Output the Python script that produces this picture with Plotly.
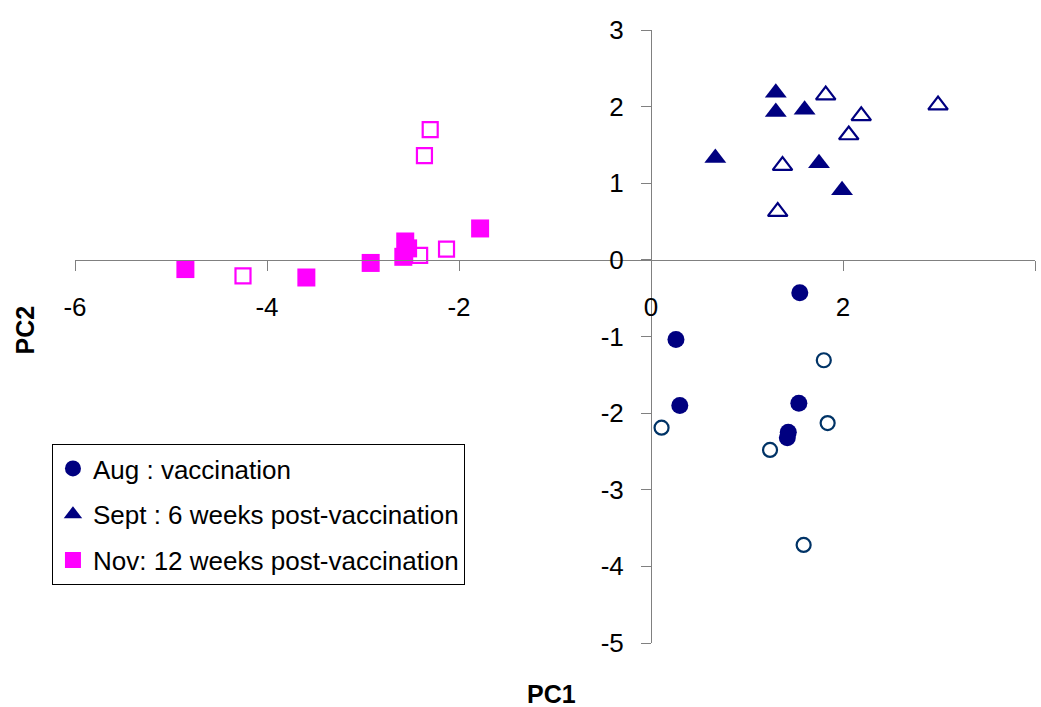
import plotly.graph_objects as go

# Aug : vaccination
aug_fill_x = [1.55, 0.26, 0.30, 1.54, 1.43, 1.42]
aug_fill_y = [-0.43, -1.04, -1.90, -1.87, -2.25, -2.32]
aug_open_x = [1.80, 1.84, 0.11, 1.24, 1.59]
aug_open_y = [-1.31, -2.13, -2.19, -2.48, -3.72]

# Sept : 6 weeks post-vaccination
sep_fill_x = [1.30, 1.30, 1.60, 0.67, 1.75, 1.99]
sep_fill_y = [2.18, 1.93, 1.96, 1.33, 1.26, 0.91]
sep_open_x = [1.82, 2.19, 2.06, 2.99, 1.37, 1.32]
sep_open_y = [2.15, 1.88, 1.63, 2.02, 1.23, 0.63]

# Nov: 12 weeks post-vaccination
nov_fill_x = [-4.85, -3.59, -2.92, -2.56, -2.53, -2.58, -1.78]
nov_fill_y = [-0.12, -0.23, -0.04, 0.24, 0.15, 0.04, 0.41]
nov_open_x = [-4.25, -2.30, -2.36, -2.41, -2.13]
nov_open_y = [-0.21, 1.70, 1.36, 0.06, 0.14]

names = ["Aug : vaccination", "Sept : 6 weeks post-vaccination", "Nov: 12 weeks post-vaccination"]

x_ticks = [-6, -4, -2, 0, 2, 4]
x_tick_text = ["-6", "-4", "-2", "0", "2", "4"]
y_ticks = [-5, -4, -3, -2, -1, 0, 1, 2, 3]
y_tick_text = ["-5", "-4", "-3", "-2", "-1", "0", "1", "2", "3"]

NAVY = "#000080"
OPEN_BLUE = "#003366"
MAGENTA = "#FF00FF"
FONT = "Liberation Sans, Arial, sans-serif"

fig = go.Figure()

fig.add_trace(go.Scatter(x=aug_fill_x, y=aug_fill_y, mode="markers", name=names[0],
                         legendgroup="a",
                         marker=dict(symbol="circle", size=17, color=NAVY, line=dict(width=0))))
fig.add_trace(go.Scatter(x=aug_open_x, y=aug_open_y, mode="markers", showlegend=False,
                         legendgroup="a",
                         marker=dict(symbol="circle-open", size=14, color=OPEN_BLUE, line=dict(width=2.2))))
fig.add_trace(go.Scatter(x=sep_fill_x, y=sep_fill_y, mode="markers", name=names[1],
                         legendgroup="b",
                         marker=dict(symbol="triangle-up", size=19, color=NAVY, line=dict(width=0))))
fig.add_trace(go.Scatter(x=sep_open_x, y=sep_open_y, mode="markers", showlegend=False,
                         legendgroup="b",
                         marker=dict(symbol="triangle-up-open", size=17, color=NAVY, line=dict(width=2.2))))
fig.add_trace(go.Scatter(x=nov_fill_x, y=nov_fill_y, mode="markers", name=names[2],
                         legendgroup="c",
                         marker=dict(symbol="square", size=18, color=MAGENTA, line=dict(width=0))))
fig.add_trace(go.Scatter(x=nov_open_x, y=nov_open_y, mode="markers", showlegend=False,
                         legendgroup="c",
                         marker=dict(symbol="square-open", size=15, color=MAGENTA, line=dict(width=2.2))))

x_range = [-6, 4]
y_range = [-5, 3]
# position of the crossing axes (paper fraction of the data zero)
x_axis_pos = (0 - y_range[0]) / (y_range[1] - y_range[0])
y_axis_pos = (0 - x_range[0]) / (x_range[1] - x_range[0])

fig.update_layout(
    width=1041, height=707,
    margin=dict(l=75, r=6, t=30, b=64),
    paper_bgcolor="white", plot_bgcolor="white",
    font=dict(family=FONT, size=26, color="black"),
    xaxis=dict(range=x_range, tickvals=x_ticks, ticktext=x_tick_text,
               showgrid=False, zeroline=False,
               showline=True, linecolor="#808080", linewidth=1,
               ticks="outside", ticklen=10, tickcolor="#808080",
               anchor="free", position=x_axis_pos,
               tickfont=dict(size=26), ticklabelstandoff=14),
    yaxis=dict(range=y_range, tickvals=y_ticks, ticktext=y_tick_text,
               showgrid=False, zeroline=False,
               showline=True, linecolor="#808080", linewidth=1,
               ticks="outside", ticklen=10, tickcolor="#808080",
               anchor="free", position=y_axis_pos,
               tickfont=dict(size=26), ticklabelstandoff=12),
    legend=dict(x=-0.024, y=0.3246, xanchor="left", yanchor="top",
                bgcolor="white", bordercolor="black", borderwidth=1,
                font=dict(size=26), tracegroupgap=9, itemwidth=30),
    showlegend=True,
    annotations=[
        dict(text="<b>PC1</b>", xref="paper", yref="paper", x=0.496, y=-0.0825,
             xanchor="center", yanchor="middle", showarrow=False, font=dict(size=25)),
        dict(text="<b>PC2</b>", xref="paper", yref="paper", x=-0.052, y=0.51,
             xanchor="center", yanchor="middle", showarrow=False, textangle=-90,
             font=dict(size=25)),
    ],
)

fig.write_html("out.html")
